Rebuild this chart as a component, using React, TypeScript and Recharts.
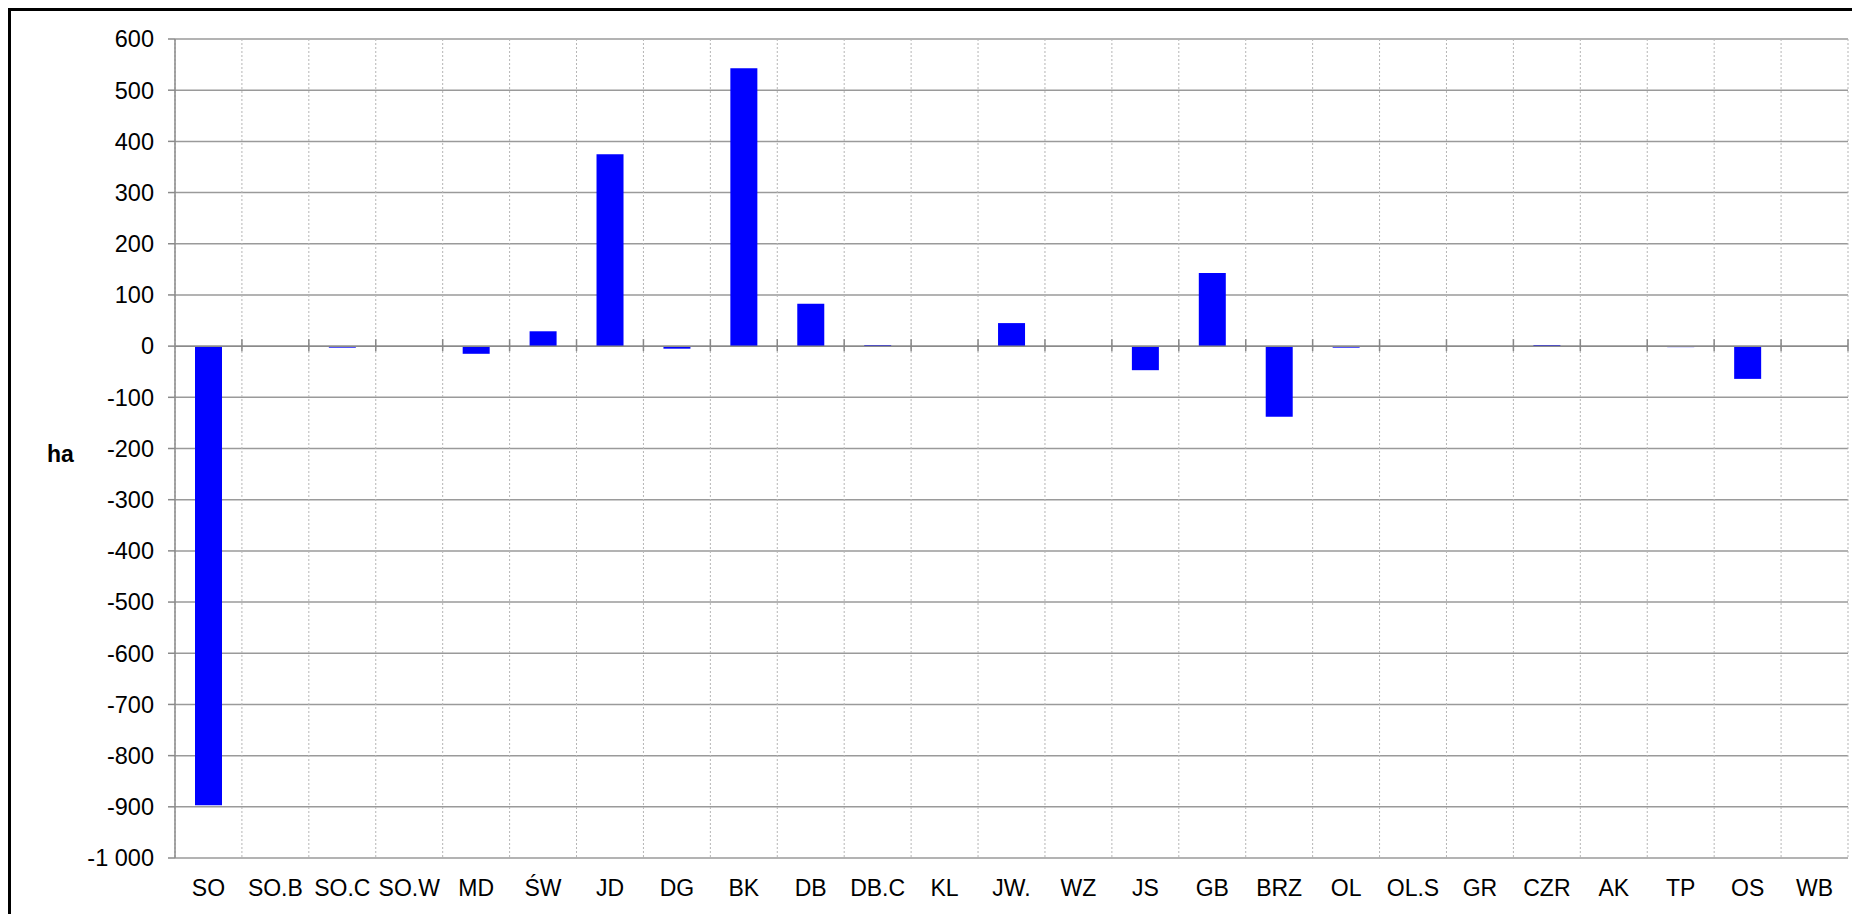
import { BarChart, Bar, XAxis, YAxis, CartesianGrid, ReferenceLine } from 'recharts';

const categories = ['SO', 'SO.B', 'SO.C', 'SO.W', 'MD', 'ŚW', 'JD', 'DG', 'BK', 'DB', 'DB.C', 'KL', 'JW.', 'WZ', 'JS', 'GB', 'BRZ', 'OL', 'OL.S', 'GR', 'CZR', 'AK', 'TP', 'OS', 'WB'];
const values = [-897, 0, -3, 0, -15, 29, 375, -5, 543, 83, 2, 0, 45, 0, -47, 143, -138, -3, 0, 0, 2, 0, -2, -64, 0];
const yTicks = [600, 500, 400, 300, 200, 100, 0, -100, -200, -300, -400, -500, -600, -700, -800, -900, -1000];

const data = categories.map((name, i) => ({ name, value: values[i] }));

const font = '"Liberation Sans", Arial, sans-serif';
const fs = 23;

const fmt = (v: number) => (Math.abs(v) >= 1000 ? String(v).replace(/(\d)(\d{3})$/, '$1 $2') : String(v));

const XTick = (props: any) => {
  const { x, y, payload } = props;
  return (
    <text x={x} y={y} dy="0.71em" textAnchor="middle" fill="#000" fontSize={fs} fontFamily={font}>
      {payload.value}
    </text>
  );
};

const YTick = (props: any) => {
  const { x, y, payload } = props;
  return (
    <text x={x} y={y} dy="0.355em" textAnchor="end" fill="#000" fontSize={fs + 0.5} fontFamily={font}>
      {fmt(payload.value)}
    </text>
  );
};

// zero line with tick marks at the category boundaries
const ZeroLine = (props: any) => {
  const { x1, x2, y1 } = props;
  const n = categories.length;
  const step = (x2 - x1) / n;
  const marks = [];
  for (let i = 1; i <= n; i++) {
    const x = x1 + i * step;
    marks.push(<line key={i} x1={x} x2={x} y1={y1 - 7} y2={y1 + 5} stroke="#888" strokeWidth={1.5} />);
  }
  return (
    <g>
      <line x1={x1} x2={x2} y1={y1} y2={y1} stroke="#8a8a8a" strokeWidth={1.5} />
      {marks}
    </g>
  );
};

export default function App() {
  return (
    <div
      style={{
        width: 1852,
        height: 920,
        borderTop: '3px solid #000',
        borderLeft: '3px solid #000',
        boxSizing: 'border-box',
        position: 'relative',
        overflow: 'hidden',
        fontFamily: font,
        fontSize: fs,
      }}
    >
      <style>{'body{overflow:hidden}'}</style>
      <span
        style={{
          position: 'absolute',
          left: 36,
          top: 432,
          fontSize: fs,
          lineHeight: '23px',
          fontWeight: 'bold',
          color: '#000',
        }}
      >
        ha
      </span>
      <BarChart
        width={1849}
        height={895}
        data={data}
        margin={{ top: 28, right: 12, bottom: 8, left: 104 }}
      >
        <CartesianGrid vertical={false} stroke="#9a9a9a" strokeWidth={1.5} />
        <CartesianGrid
          horizontal={false}
          stroke="#b5b5b5"
          strokeDasharray="2 2"
          verticalCoordinatesGenerator={({ offset }: any) =>
            Array.from({ length: categories.length + 1 }, (_, i) => offset.left + (i * offset.width) / categories.length)
          }
        />
        <XAxis
          dataKey="name"
          axisLine={false}
          tickLine={false}
          tickSize={0}
          tickMargin={22}
          height={40}
          interval={0}
          tick={<XTick />}
        />
        <YAxis
          domain={[-1000, 600]}
          ticks={yTicks}
          interval={0}
          width={60}
          axisLine={{ stroke: '#8a8a8a', strokeWidth: 1.5 }}
          tickLine={{ stroke: '#8a8a8a', strokeWidth: 1.5 }}
          tickSize={7}
          tickMargin={14}
          tick={<YTick />}
        />
        <ReferenceLine y={0} shape={ZeroLine} />
        <Bar dataKey="value" fill="#0000ff" barSize={27} isAnimationActive={false} />
      </BarChart>
    </div>
  );
}
